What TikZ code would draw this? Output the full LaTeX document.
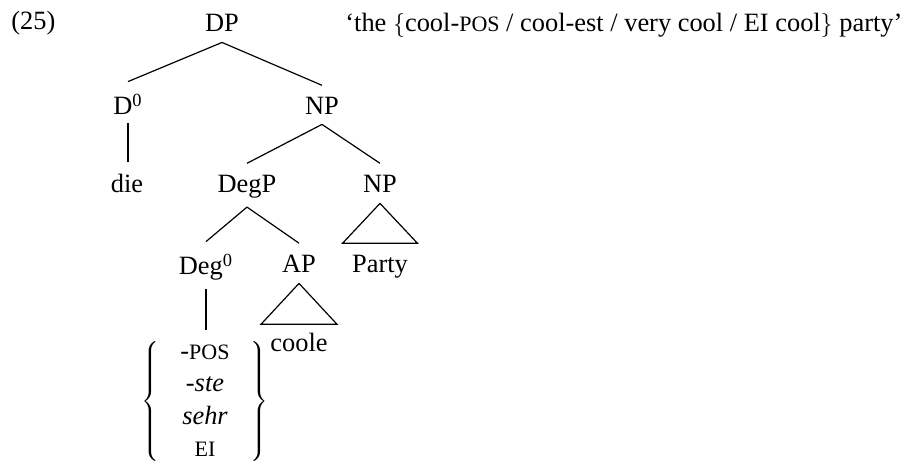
\documentclass[tikz,border=0pt]{standalone}
\usepackage{fontspec}
\setmainfont{Liberation Serif}
\newcommand{\smc}[1]{{\fontsize{11}{12}\selectfont #1}}
\newcommand{\supz}{\textsuperscript{0}}
\begin{document}
\begin{tikzpicture}[x=0.5pt,y=-0.5pt, font=\fontsize{13.2}{15.6}\selectfont,
  lbl/.style={anchor=base, inner sep=0pt},
  edge/.style={line width=0.6pt}]
\useasboundingbox (0,0) rectangle (907,464);
% labels
\node[lbl, anchor=base west] (ex) at (11,30) {(25)};
\node[lbl] (DP) at (222,32) {DP};
\node[lbl, anchor=base west] (gl) at (345,32) {‘the $\{$cool-\smc{POS} / cool-est / very cool / EI cool$\}$ party’};
\node[lbl] (D0) at (128,115) {D\supz};
\node[lbl] (NP) at (322,115) {NP};
\node[lbl] (die) at (127,193) {die};
\node[lbl] (DegP) at (247,193) {DegP};
\node[lbl] (NP2) at (380,193) {NP};
\node[lbl] (Deg0) at (206,275) {Deg\supz};
\node[lbl] (AP) at (299,273) {AP};
\node[lbl] (Party) at (380,273) {Party};
\node[lbl] (coole) at (299,352) {coole};
\node[inner sep=0pt, anchor=north] (br) at (205,336)
  {\arraycolsep=10.5pt\def\arraystretch{1.04}$\left\{\begin{array}{c}
   \mbox{-\smc{POS}}\\ \mbox{\itshape -ste}\\ \mbox{\itshape sehr}\\ \mbox{\smc{EI}}
   \end{array}\right\}$};
% edges
\draw[edge] ([yshift=-5pt]DP.south) -- ([yshift=6pt]D0.north);
\draw[edge] ([yshift=-5pt]DP.south) -- ([yshift=6pt]NP.north);
\draw[edge] ([yshift=-4pt]D0.south) -- ([yshift=6pt]D0.south |- die.north);
\draw[edge] ([yshift=-4.5pt]NP.south) -- ([yshift=6pt]DegP.north);
\draw[edge] ([yshift=-4.5pt]NP.south) -- ([yshift=6pt]NP2.north);
\draw[edge] ([yshift=-4pt]DegP.south) -- ([yshift=6pt]Deg0.north);
\draw[edge] ([yshift=-4pt]DegP.south) -- ([yshift=6pt]AP.north);
\draw[edge] ([yshift=-4pt]Deg0.south) -- ([yshift=3pt]Deg0.south |- br.north);
% triangles
\draw[edge] ([yshift=-5pt]NP2.south) -- ([xshift=-18.75pt,yshift=6pt]Party.north)
  -- ([xshift=18.75pt,yshift=6pt]Party.north) -- cycle;
\draw[edge] ([yshift=-5pt]AP.south) -- ([xshift=-19pt,yshift=4.5pt]coole.north)
  -- ([xshift=19pt,yshift=4.5pt]coole.north) -- cycle;
\end{tikzpicture}
\end{document}
